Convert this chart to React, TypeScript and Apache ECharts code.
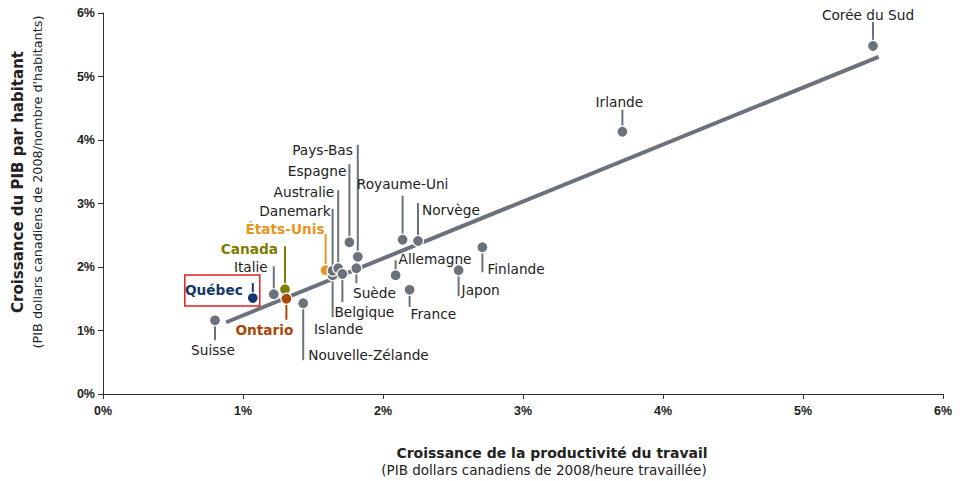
import React, { useEffect, useRef } from "react";
import * as echarts from "echarts";

// ---- Data ----
const countries = [
  "Suisse", "Québec", "Italie", "Canada", "Ontario", "Nouvelle-Zélande",
  "États-Unis", "Islande", "Danemark", "Australie", "Belgique", "Espagne",
  "Pays-Bas", "Suède", "Allemagne", "Royaume-Uni", "Norvège", "France",
  "Japon", "Finlande", "Irlande", "Corée du Sud",
];
// Croissance de la productivité du travail (%)
const productivityGrowth = [
  0.80, 1.07, 1.22, 1.30, 1.31, 1.43,
  1.59, 1.64, 1.64, 1.68, 1.71, 1.76,
  1.82, 1.81, 2.09, 2.14, 2.25, 2.19,
  2.54, 2.71, 3.71, 5.50,
];
// Croissance du PIB par habitant (%)
const gdpGrowth = [
  1.16, 1.51, 1.57, 1.65, 1.50, 1.43,
  1.95, 1.87, 1.94, 1.98, 1.89, 2.39,
  2.16, 1.98, 1.87, 2.43, 2.41, 1.64,
  1.95, 2.31, 4.13, 5.48,
];
// Droite de tendance
const trendX = [0.88, 5.54];
const trendY = [1.13, 5.31];

const xTicks = [0, 1, 2, 3, 4, 5, 6];
const yTicks = [0, 1, 2, 3, 4, 5, 6];

// ---- Styles / layout (not data) ----
const GRAY = "#6c727b";
const special: Record<string, { color: string; bold: boolean; box?: boolean }> = {
  "Québec": { color: "#15386a", bold: true, box: true },
  "Canada": { color: "#7d7d00", bold: true },
  "Ontario": { color: "#a9470b", bold: true },
  "États-Unis": { color: "#e8951f", bold: true },
};
// per label: line end (dy from dot), text dx, dy, align
const labelLayout: Record<string, [number, number, number, string]> = {
  "Suisse": [20, -2, 30, "center"],
  "Québec": [-15, -10, -8, "right"],
  "Italie": [-28, -6, -27, "right"],
  "Canada": [-43, -7, -40, "right"],
  "Ontario": [21, -22, 31, "center"],
  "Nouvelle-Zélande": [57, 5, 52, "left"],
  "États-Unis": [-36, -1, -41, "right"],
  "Islande": [42, 6, 54, "center"],
  "Danemark": [-62, -2, -60, "right"],
  "Australie": [-78, -4, -76, "right"],
  "Belgique": [28, -8, 38, "left"],
  "Espagne": [-78, -3, -71, "right"],
  "Pays-Bas": [-112, -5, -107, "right"],
  "Suède": [15, 18, 25, "center"],
  "Allemagne": [-15, 3, -16, "left"],
  "Royaume-Uni": [-44, 0, -56, "center"],
  "Norvège": [-38, 4, -31, "left"],
  "France": [17, 1, 24, "left"],
  "Japon": [26, 3, 20, "left"],
  "Finlande": [25, 5, 22, "left"],
  "Irlande": [-22, -3, -30, "center"],
  "Corée du Sud": [-24, -5, -31, "center"],
};

const LABEL_FONT = "'DejaVu Sans', sans-serif";
const AXIS_FONT = "'Liberation Sans', Arial, sans-serif";

export default function App() {
  const ref = useRef<HTMLDivElement>(null);
  useEffect(() => {
    if (!ref.current) return;
    const chart = echarts.init(ref.current, null, { renderer: "svg" });
    const pts = countries.map((c, i) => [productivityGrowth[i], gdpGrowth[i], i]);
    const R = 5.5;
    const option: any = {
      animation: false,
      grid: { left: 103, right: 21, top: 13, bottom: 87 },
      xAxis: {
        type: "value", min: 0, max: 6, interval: 1,
        splitLine: { show: false },
        axisLine: { show: true, lineStyle: { color: "#333", width: 1 } },
        axisTick: { show: true, length: 5, lineStyle: { color: "#333" } },
        axisLabel: {
          formatter: (v: number) => (xTicks.includes(v) ? v + "%" : ""),
          color: "#222", fontWeight: "bold", fontSize: 12.5, fontFamily: AXIS_FONT, margin: 10,
        },
      },
      yAxis: {
        type: "value", min: 0, max: 6, interval: 1,
        splitLine: { show: false },
        axisLine: { show: true, lineStyle: { color: "#333", width: 1 } },
        axisTick: { show: true, length: 5, lineStyle: { color: "#333" } },
        axisLabel: {
          formatter: (v: number) => (yTicks.includes(v) ? v + "%" : ""),
          color: "#222", fontWeight: "bold", fontSize: 12.5, fontFamily: AXIS_FONT, margin: 8,
        },
      },
      series: [
        {
          type: "line",
          data: trendX.map((x, i) => [x, trendY[i]]),
          symbol: "none",
          lineStyle: { color: GRAY, width: 4 },
          z: 1,
          silent: true,
        },
        {
          type: "custom",
          data: pts,
          z: 5,
          renderItem: (params: any, api: any) => {
            const i = api.value(2);
            const name = countries[i];
            const p = api.coord([api.value(0), api.value(1)]);
            const sp = special[name];
            const color = sp ? sp.color : GRAY;
            const [lineEnd, dx, dy, align] = labelLayout[name];
            const children: any[] = [];
            children.push({
              type: "line",
              shape: { x1: p[0], y1: p[1], x2: p[0], y2: p[1] + lineEnd },
              style: { stroke: color, lineWidth: 2 },
            });
            children.push({
              type: "circle",
              shape: { cx: p[0], cy: p[1], r: R },
              style: { fill: color, stroke: "#fff", lineWidth: 1.2 },
            });
            children.push({
              type: "text",
              style: {
                text: name,
                x: p[0] + dx,
                y: p[1] + dy,
                align,
                verticalAlign: "middle",
                fill: sp ? sp.color : "#222",
                font: (sp && sp.bold ? "bold " : "") + "13.7px " + LABEL_FONT,
              },
            });
            if (sp && sp.box) {
              children.push({
                type: "rect",
                shape: { x: p[0] - 68, y: p[1] - 23, width: 75, height: 31 },
                style: { fill: "none", stroke: "#e02020", lineWidth: 1.5 },
              });
            }
            return { type: "group", children };
          },
        },
      ],
      graphic: [
        {
          type: "text",
          style: {
            text: "Croissance de la productivité du travail",
            x: 552, y: 453, align: "center", verticalAlign: "middle",
            font: "bold 14px " + LABEL_FONT, fill: "#222",
          },
        },
        {
          type: "text",
          style: {
            text: "(PIB dollars canadiens de 2008/heure travaillée)",
            x: 544, y: 470, align: "center", verticalAlign: "middle",
            font: "13.5px " + LABEL_FONT, fill: "#222",
          },
        },
        {
          type: "text",
          x: 18, y: 182, rotation: Math.PI / 2,
          style: {
            text: "Croissance du PIB par habitant",
            x: 0, y: 0, align: "center", verticalAlign: "middle",
            font: "bold 15px " + LABEL_FONT, fill: "#222",
          },
        },
        {
          type: "text",
          x: 37, y: 182, rotation: Math.PI / 2,
          style: {
            text: "(PIB dollars canadiens de 2008/nombre d'habitants)",
            x: 0, y: 0, align: "center", verticalAlign: "middle",
            font: "12.8px " + LABEL_FONT, fill: "#222",
          },
        },
      ],
    };
    chart.setOption(option);
    return () => chart.dispose();
  }, []);
  return <div ref={ref} style={{ width: 964, height: 481, position: "absolute", left: 0, top: 0 }} />;
}
